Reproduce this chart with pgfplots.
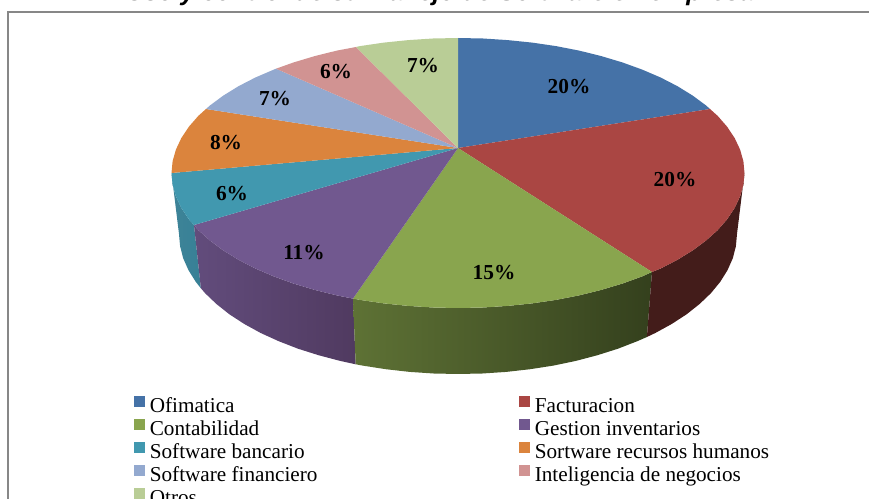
\documentclass[border=0pt]{standalone}
\usepackage{fontspec}
\setmainfont{Liberation Serif}
\newfontfamily\titlefont{Liberation Sans}
\usepackage{pgfplots}
\pgfplotsset{compat=1.18}

\definecolor{cofi}{HTML}{4572A7}
\definecolor{cfac}{HTML}{AA4643}
\definecolor{ccon}{HTML}{89A54E}
\definecolor{cges}{HTML}{71588F}
\definecolor{cban}{HTML}{4198AF}
\definecolor{chum}{HTML}{DB843D}
\definecolor{cfin}{HTML}{93A9CF}
\definecolor{cint}{HTML}{D19392}
\definecolor{cotr}{HTML}{B9CD96}

\begin{document}
\begin{tikzpicture}
\useasboundingbox (0,0) rectangle (651.75pt,374.25pt);
\clip (0,0) rectangle (651.75pt,374.25pt);
\begin{axis}[
  at={(0,0)}, anchor=south west,
  scale only axis, width=651.75pt, height=374.25pt,
  xmin=0, xmax=869, ymin=0, ymax=499,
  y dir=reverse,
  hide axis,
  legend columns=2,
  legend cell align=left,
  legend image code/.code={\fill[#1] (0pt,0.7pt) rectangle (8.25pt,9pt);},
  legend style={
    at={(0.1542,0.2078)}, anchor=north west,
    draw=none, fill=none, inner sep=0pt, font=\fontsize{15.9pt}{17pt}\selectfont,
    row sep=1.25pt,
    nodes={inner sep=0pt, text height=11pt, text depth=3pt},
    /tikz/column 1/.style={column sep=3.4pt},
    /tikz/column 2/.style={column sep=151.3pt},
    /tikz/column 3/.style={column sep=3.4pt},
  },
]
% chart frame and the clipped title
\draw[color=black!47, line width=1.1pt] (axis cs:8,12) rectangle (axis cs:885,520);
\node[anchor=base, inner sep=0pt, font=\titlefont\bfseries\itshape\fontsize{19pt}{20pt}\selectfont]
  at (axis cs:440,0.5) {Uso y control de su Manejo de Software en empresa};

% side walls
\addplot[forget plot, draw=none, left color={rgb,255:red,62;green,132;blue,152}, right color={rgb,255:red,55;green,128;blue,150}] coordinates {
  (194,225)(188.8,219.2)(181.3,207.9)(175.9,196.4)(172.6,184.8)(171.5,173)
  (179,234)(180.1,246.2)(183.2,258.3)(188.5,270.2)(195.8,281.9)(200.9,288.3)
};
\addplot[forget plot, draw=none, left color={rgb,255:red,98;green,76;blue,124}, right color={rgb,255:red,80;green,58;blue,96}] coordinates {
  (353,298.6)(336.9,295.4)(314.7,289.9)(293.7,283.6)(273.8,276.4)(255.4,268.5)(238.5,259.8)(223.3,250.4)(209.9,240.5)(198.3,230.1)(194,225)
  (200.9,288.3)(205.1,293.2)(216.4,304)(229.4,314.3)(244.3,324)(260.7,333)(278.7,341.2)(298,348.7)(318.5,355.2)(340.1,360.9)(355.7,364.3)
};
\addplot[forget plot, draw=none, left color={rgb,255:red,94;green,114;blue,53}, right color={rgb,255:red,52;green,64;blue,29}] coordinates {
  (652,272)(642.2,276.4)(622.3,283.6)(601.3,289.9)(579.1,295.4)(556,299.9)(532.1,303.4)(507.7,305.9)(483,307.5)(458,308)
  (433,307.5)(408.3,305.9)(383.9,303.4)(360,299.9)(353,298.6)
  (355.7,364.3)(362.6,365.6)(385.8,369.2)(409.6,371.9)(433.7,373.5)(458,374)
  (482.3,373.5)(506.4,371.9)(530.2,369.2)(553.4,365.6)(575.9,360.9)(597.5,355.2)(618,348.7)(637.3,341.2)(646.9,337)
};
\addplot[forget plot, draw=none, fill={rgb,255:red,67;green,28;blue,26}] coordinates {
  (744.5,173)(743.4,184.8)(740.1,196.4)(734.7,207.9)(727.2,219.2)(717.7,230.1)(706.1,240.5)(692.7,250.4)(677.5,259.8)(660.6,268.5)(652,272)
  (646.9,337)(655.3,333)(671.7,324)(686.6,314.3)(699.6,304)(710.9,293.2)(720.2,281.9)(727.5,270.2)(732.8,258.3)(735.9,246.2)(737,234)
};

% top face, one slice per category
\addplot[draw=none, fill=cofi] coordinates {
  (458,148)(458,38)(483,38.5)(507.7,40.1)(532.1,42.6)(556,46.1)(579.1,50.6)(601.3,56.1)(622.3,62.4)(642.2,69.6)(660.6,77.5)(677.5,86.2)(692.7,95.6)(706.1,105.5)(710,109)
};
\addlegendentry{Ofimatica}
\addplot[draw=none, fill=cfac] coordinates {
  (458,148)(710,109)(717.7,115.9)(727.2,126.8)(734.7,138.1)(740.1,149.6)(743.4,161.2)(744.5,173)(743.4,184.8)(740.1,196.4)(734.7,207.9)(727.2,219.2)(717.7,230.1)(706.1,240.5)(692.7,250.4)(677.5,259.8)(660.6,268.5)(652,272)
};
\addlegendentry{Facturacion}
\addplot[draw=none, fill=ccon] coordinates {
  (458,148)(652,272)(642.2,276.4)(622.3,283.6)(601.3,289.9)(579.1,295.4)(556,299.9)(532.1,303.4)(507.7,305.9)(483,307.5)(458,308)(433,307.5)(408.3,305.9)(383.9,303.4)(360,299.9)(353,298.6)
};
\addlegendentry{Contabilidad}
\addplot[draw=none, fill=cges] coordinates {
  (458,148)(353,298.6)(336.9,295.4)(314.7,289.9)(293.7,283.6)(273.8,276.4)(255.4,268.5)(238.5,259.8)(223.3,250.4)(209.9,240.5)(198.3,230.1)(194,225)
};
\addlegendentry{Gestion inventarios}
\addplot[draw=none, fill=cban] coordinates {
  (458,148)(194,225)(188.8,219.2)(181.3,207.9)(175.9,196.4)(172.6,184.8)(171.5,173)
};
\addlegendentry{Software bancario}
\addplot[draw=none, fill=chum] coordinates {
  (458,148)(171.5,173)(172.6,161.2)(175.9,149.6)(181.3,138.1)(188.8,126.8)(198.3,115.9)(206,109)
};
\addlegendentry{Sortware recursos humanos}
\addplot[draw=none, fill=cfin] coordinates {
  (458,148)(206,109)(209.9,105.5)(223.3,95.6)(238.5,86.2)(255.4,77.5)(273.8,69.6)(276,68.7)
};
\addlegendentry{Software financiero}
\addplot[draw=none, fill=cint] coordinates {
  (458,148)(276,68.7)(293.7,62.4)(314.7,56.1)(336.9,50.6)(356,47)
};
\addlegendentry{Inteligencia de negocios}
\addplot[draw=none, fill=cotr] coordinates {
  (458,148)(356,47)(360,46.1)(383.9,42.6)(408.3,40.1)(433,38.5)(458,38)
};
\addlegendentry{Otros}

% value labels
\tikzset{pct/.style={inner sep=0pt, font=\bfseries\fontsize{16pt}{17pt}\selectfont}}
\node[pct] at (axis cs:569,87) {20\%};
\node[pct] at (axis cs:675,180) {20\%};
\node[pct] at (axis cs:494,273) {15\%};
\node[pct] at (axis cs:304,253) {11\%};
\node[pct] at (axis cs:232,194) {6\%};
\node[pct] at (axis cs:226,143) {8\%};
\node[pct] at (axis cs:275,99) {7\%};
\node[pct] at (axis cs:336,72) {6\%};
\node[pct] at (axis cs:423,66) {7\%};
\end{axis}
\end{tikzpicture}
\end{document}
